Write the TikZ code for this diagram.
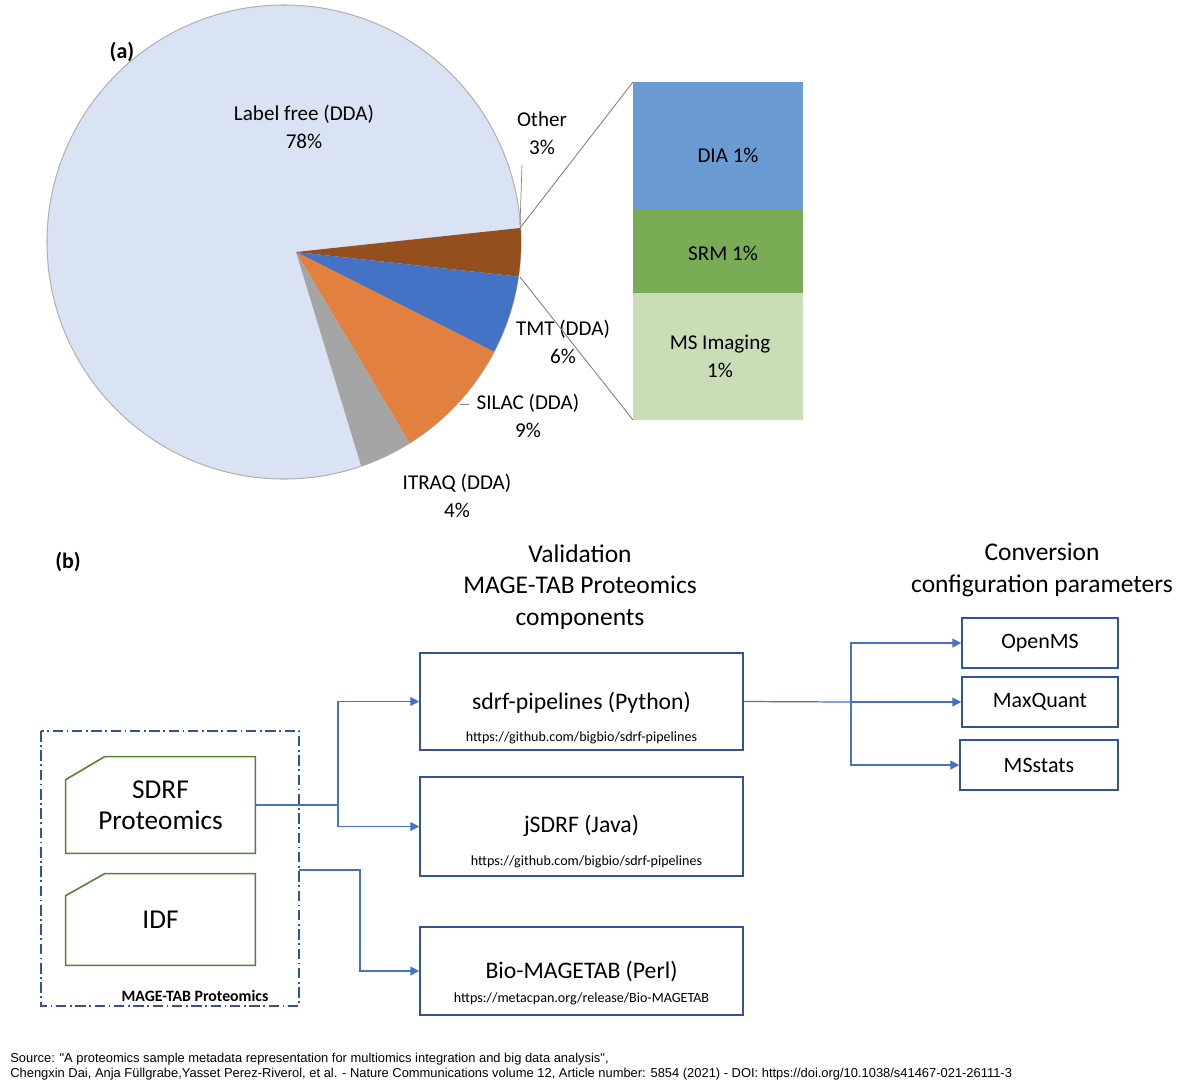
\documentclass[tikz,border=0pt]{standalone}
\usepackage{fontspec}
\setmainfont{Carlito}
\newfontfamily\arialfont{Liberation Sans}
\usetikzlibrary{arrows.meta,positioning}
\definecolor{lfree}{HTML}{DAE3F3}
\definecolor{other}{HTML}{954F1F}
\definecolor{tmt}{HTML}{4472C4}
\definecolor{silac}{HTML}{E2803F}
\definecolor{itraq}{HTML}{A5A5A5}
\definecolor{dia}{HTML}{6A9BD3}
\definecolor{srm}{HTML}{7AAB55}
\definecolor{msimg}{HTML}{C9DDB7}
\definecolor{boxblue}{HTML}{2F5597}
\definecolor{arrblue}{HTML}{4472C4}
\definecolor{docgreen}{HTML}{548235}
\tikzset{
  tool/.style={draw=boxblue,line width=0.9pt,minimum width=6.46cm,align=center},
  conv/.style={draw=boxblue,line width=0.9pt,minimum width=3.12cm,minimum height=1cm,font=\fontsize{12.5}{14}\selectfont},
  doc/.style={minimum width=3.78cm,align=center,font=\fontsize{15.5}{17.5}\selectfont},
  flow/.style={draw=arrblue,line width=0.7pt,-{Triangle[length=5pt,width=5pt]}},
  lbl/.style={align=center,font=\fontsize{12}{16}\selectfont}
}
\begin{document}
\begin{tikzpicture}
  \useasboundingbox (0,0) rectangle (24,-21.76);
  % (a) pie chart
  \coordinate (C) at (5.68,-4.84);
  \coordinate (V) at (5.92,-5.04);
  \fill[lfree] (C) circle(4.74);
  \draw[gray!60,line width=0.6pt] (C) circle(4.74);
  \fill[other] (V) -- ([shift={(C)}]3.4:4.74) arc[start angle=3.4,end angle=-8.4,radius=4.74] -- cycle;
  \fill[tmt] (V) -- ([shift={(C)}]-8.4:4.74) arc[start angle=-8.4,end angle=-27.6,radius=4.74] -- cycle;
  \fill[silac] (V) -- ([shift={(C)}]-27.6:4.74) arc[start angle=-27.6,end angle=-58,radius=4.74] -- cycle;
  \fill[itraq] (V) -- ([shift={(C)}]-58:4.74) arc[start angle=-58,end angle=-71,radius=4.74] -- cycle;
  \node[font=\bfseries\fontsize{12.5}{14}\selectfont] (taga) at (2.44,-1.04) {(a)};
  \node[lbl] (lfreelbl) at (6.08,-2.54) {Label free (DDA)\\78\%};
  \node[lbl] (otherlbl) at (10.84,-2.66) {Other\\3\%};
  \node[lbl] (tmtlbl) at (11.26,-6.84) {TMT (DDA)\\6\%};
  \node[lbl] (silaclbl) at (10.56,-8.32) {SILAC (DDA)\\9\%};
  \node[lbl] (itraqlbl) at (9.14,-9.92) {ITRAQ (DDA)\\4\%};
  \draw[gray,line width=0.4pt] (10.4,-4.5) -- (10.44,-3.3);
  \draw[gray,line width=0.4pt] (9.2,-8.08) -- (9.38,-8.08);
  % (a) bar of the other slice
  \fill[dia] (12.66,-1.64) rectangle (16.06,-4.2);
  \fill[srm] (12.66,-4.2) rectangle (16.06,-5.86);
  \fill[msimg] (12.66,-5.86) rectangle (16.06,-8.4);
  \node[lbl] (dialbl) at (14.56,-3.1) {DIA 1\%};
  \node[lbl] (srmlbl) at (14.46,-5.06) {SRM 1\%};
  \node[lbl] (msilbl) at (14.4,-7.12) {MS Imaging\\1\%};
  \draw[gray,line width=0.5pt] (10.4,-4.56) -- (12.66,-1.64);
  \draw[gray,line width=0.5pt] (10.4,-5.54) -- (12.66,-8.4);
  % (b) flow
  \node[font=\bfseries\fontsize{12.5}{14}\selectfont] (tagb) at (1.36,-11.24) {(b)};
  \node[align=center,font=\fontsize{14.5}{17.8}\selectfont] (valhead) at (11.6,-11.74)
    {Validation\\MAGE-TAB Proteomics\\components};
  \node[align=center,font=\fontsize{14.5}{17.8}\selectfont] (convhead) at (20.84,-11.4)
    {Conversion\\configuration parameters};
  \node[tool,minimum height=1.94cm] (sdrfpy) at (11.63,-14.03) {};
  \node[font=\fontsize{13.5}{15}\selectfont] at (11.63,-14.06) {sdrf-pipelines (Python)};
  \node[font=\fontsize{8}{9}\selectfont] at (11.63,-14.76) {https://github.com/bigbio/sdrf-pipelines};
  \node[tool,minimum height=1.98cm] (jsdrf) at (11.63,-16.53) {};
  \node[font=\fontsize{13.5}{15}\selectfont] at (11.63,-16.52) {jSDRF (Java)};
  \node[font=\fontsize{8}{9}\selectfont] at (11.73,-17.24) {https://github.com/bigbio/sdrf-pipelines};
  \node[tool,minimum height=1.76cm] (biomt) at (11.63,-19.42) {};
  \node[font=\fontsize{13.5}{15}\selectfont] at (11.63,-19.42) {Bio-MAGETAB (Perl)};
  \node[font=\fontsize{8}{9}\selectfont] at (11.63,-19.98) {https://metacpan.org/release/Bio-MAGETAB};
  \node[conv] (openms) at (20.8,-12.86) {OpenMS};
  \node[conv] (maxq) at (20.8,-14.04) {MaxQuant};
  \node[conv,minimum width=3.16cm] (msstats) at (20.78,-15.3) {MSstats};
  % (b) MAGE-TAB files
  \draw[boxblue,line width=0.9pt,dash pattern=on 6pt off 2pt on 1pt off 2pt]
    (0.82,-14.62) rectangle (5.98,-20.12);
  \node[font=\bfseries\fontsize{9}{10}\selectfont] (mtlbl) at (3.9,-19.92) {MAGE-TAB Proteomics};
  \node[doc,minimum height=1.92cm] (sdrfdoc) at (3.21,-16.1) {SDRF\\Proteomics};
  \node[doc,minimum height=1.82cm] (idfdoc) at (3.21,-18.39) {IDF};
  \draw[docgreen,line width=0.9pt] (sdrfdoc.south west) -- ([yshift=-0.46cm]sdrfdoc.north west)
    -- ([xshift=0.78cm]sdrfdoc.north west) -- (sdrfdoc.north east) -- (sdrfdoc.south east) -- cycle;
  \draw[docgreen,line width=0.9pt] (idfdoc.south west) -- ([yshift=-0.44cm]idfdoc.north west)
    -- ([xshift=0.78cm]idfdoc.north west) -- (idfdoc.north east) -- (idfdoc.south east) -- cycle;
  \coordinate (split) at (6.76,-16.1);
  \coordinate (idfout) at (5.98,-17.4);
  \draw[arrblue,line width=0.7pt] (sdrfdoc.east) -- (split);
  \draw[flow] (split) |- (sdrfpy.west);
  \draw[flow] (split) |- (jsdrf.west);
  \draw[flow] (idfout) -| (7.2,-19.42) -- (biomt.west);
  \coordinate (fork) at (17.02,-14.04);
  \draw[arrblue,line width=0.7pt] (sdrfpy.east) -- (fork);
  \draw[flow] (fork) -- (maxq.west);
  \draw[flow] (fork) |- (openms.west);
  \draw[flow] (fork) |- (msstats.west);
  % source
  \node[anchor=north west,align=left,font=\arialfont\fontsize{7.35}{8.6}\selectfont,inner sep=0pt] (src) at (0.2,-21.06)
    {Source: "A proteomics sample metadata representation for multiomics integration and big data analysis",\\
     Chengxin Dai, Anja F\"ullgrabe,Yasset Perez-Riverol, et al. - Nature Communications volume 12, Article number: 5854 (2021) - DOI: https://doi.org/10.1038/s41467-021-26111-3};
\end{tikzpicture}
\end{document}
